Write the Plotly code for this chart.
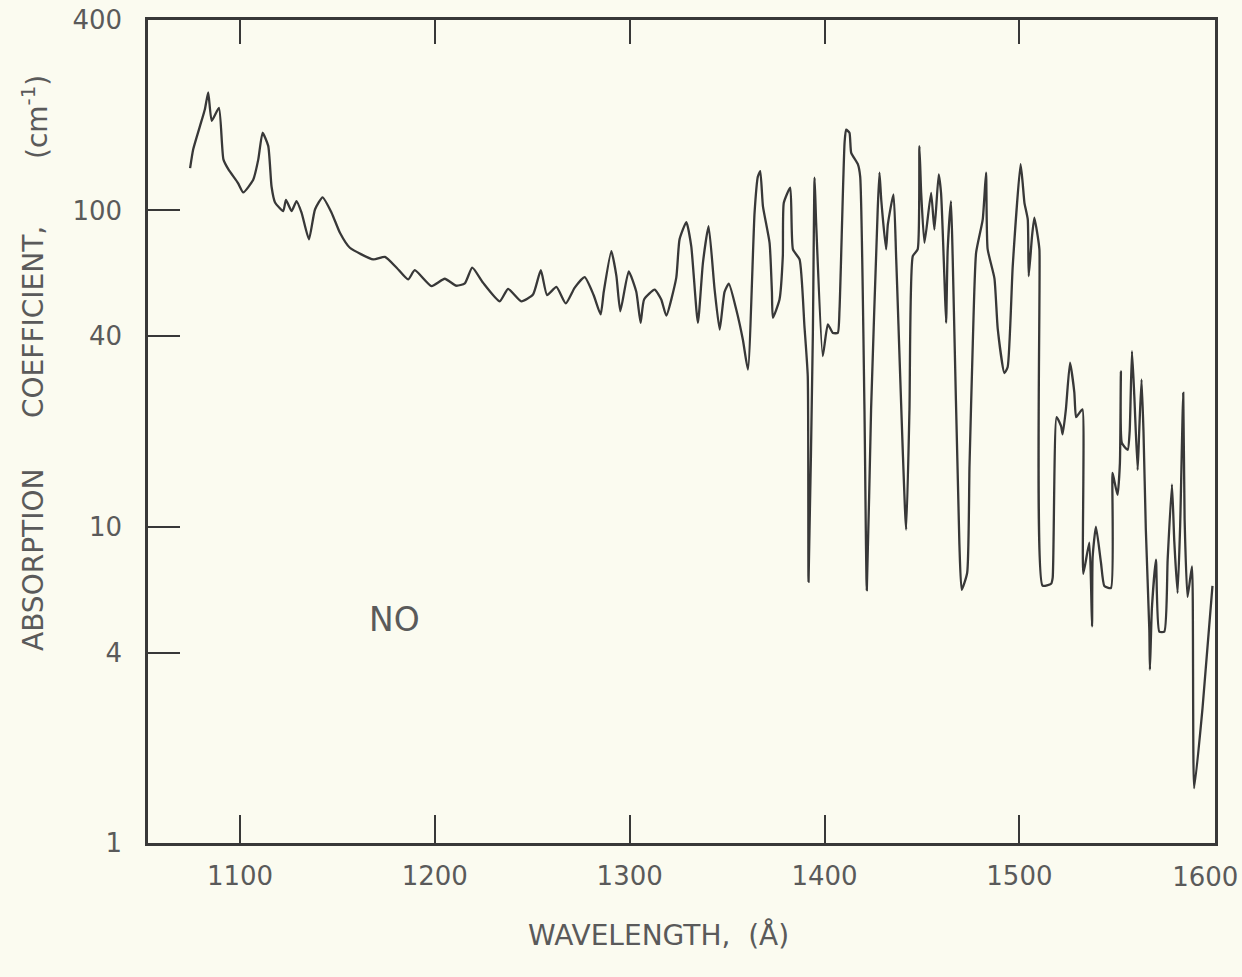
import plotly.graph_objects as go

# Wavelength (Angstrom) and absorption coefficient (cm^-1)
wavelength = [
    1074.4, 1076.0, 1079.5, 1082.0, 1083.7, 1085.5, 1089.2, 1091.5, 1094.0, 1099.0,
    1101.7, 1106.8, 1109.4, 1111.6, 1114.5, 1116.2, 1118.0, 1122.2, 1123.6, 1126.5,
    1129.0, 1131.6, 1135.4, 1138.5, 1142.4, 1147.0, 1151.3, 1156.4, 1168.4, 1174.4,
    1180.4, 1186.3, 1189.7, 1198.3, 1205.1, 1211.0, 1215.4, 1219.2, 1224.8, 1233.3,
    1237.6, 1244.4, 1250.4, 1254.4, 1257.6, 1262.4, 1267.2, 1271.8, 1276.9, 1281.5,
    1285.1, 1286.7, 1290.6, 1293.2, 1295.2, 1299.5, 1303.4, 1305.6, 1307.4, 1312.8,
    1316.2, 1318.8, 1323.9, 1325.6, 1329.1, 1331.6, 1335.0, 1337.6, 1340.5, 1343.6,
    1346.2, 1348.7, 1350.9, 1354.7, 1358.1, 1360.7, 1364.1, 1365.8, 1367.0, 1368.4,
    1371.8, 1373.0, 1373.5, 1376.9, 1378.6, 1379.1, 1382.4, 1383.8, 1387.2, 1389.7,
    1391.4, 1391.8, 1394.0, 1394.9, 1395.7, 1399.1, 1401.7, 1404.3, 1406.8, 1407.7,
    1410.3, 1411.1, 1412.8, 1413.7, 1417.1, 1418.3, 1420.5, 1421.7, 1423.9, 1427.3,
    1428.2, 1429.1, 1431.6, 1432.5, 1435.4, 1436.8, 1441.9, 1443.6, 1445.3, 1447.8,
    1448.7, 1449.6, 1451.3, 1454.7, 1456.4, 1458.6, 1459.8, 1461.5, 1462.4, 1463.2,
    1464.9, 1465.8, 1469.2, 1470.4, 1473.2, 1474.4, 1476.1, 1477.8, 1481.2, 1482.9,
    1483.7, 1487.2, 1488.9, 1492.3, 1494.0, 1496.6, 1500.6, 1501.7, 1502.6, 1504.3,
    1504.8, 1506.5, 1507.7, 1509.4, 1510.3, 1511.9, 1516.3, 1517.1, 1519.1, 1521.4,
    1522.2, 1523.9, 1526.0, 1528.2, 1529.1, 1530.8, 1532.4, 1532.8, 1535.9, 1537.3,
    1537.6, 1539.3, 1541.9, 1543.6, 1547.0, 1547.8, 1548.7, 1550.4, 1551.6, 1552.1,
    1552.6, 1555.6, 1556.6, 1557.8, 1559.0, 1560.7, 1561.5, 1562.7, 1563.7, 1564.9,
    1566.7, 1567.0, 1568.0, 1570.1, 1571.8, 1574.4, 1576.1, 1578.3, 1579.5, 1581.2,
    1582.5, 1584.1, 1584.8, 1586.3, 1588.6, 1589.7, 1594.0, 1599.1,
]
absorption = [
    136, 156, 185, 209, 236, 192, 211, 145, 135, 122,
    114, 125, 145, 176, 160, 119, 106, 99.5, 108, 99.5,
    107, 98.4, 81, 100.7, 110, 98.4, 85, 76.2, 70, 71.3,
    65.9, 60.5, 64.7, 57.6, 60.8, 57.8, 58.8, 65.9, 59, 51.6,
    56.5, 51.6, 54.2, 64.7, 54, 57.3, 50.8, 57, 61.5, 54,
    46.9, 55.3, 74.3, 62, 48, 64.2, 55.3, 44.1, 52.3, 56.2,
    52.3, 46.5, 61.2, 81, 91.8, 77.1, 44.1, 68.3, 89.2, 56.2,
    42, 55.3, 58.7, 48.6, 39, 31.4, 98.4, 128, 133, 103,
    79, 55.3, 45.8, 52.3, 71.7, 105.7, 118, 75.3, 70, 43,
    29.9, 6.7, 40, 126.9, 91.4, 34.6, 43.6, 41, 41, 48.6,
    164, 180, 176, 152, 140, 128, 23.5, 6.3, 23.5, 100.7,
    131.6, 108.3, 75.3, 90.3, 112.4, 70, 9.79, 23.5, 71.7, 75.3,
    159.8, 113.7, 79, 113.7, 87, 130, 113.7, 62, 44.1, 75,
    107, 70, 8.88, 6.32, 7.14, 15.5, 38.1, 73.5, 93.7, 131.6,
    75.6, 61, 42.2, 30.6, 32, 66.8, 140, 122, 105.7, 93.7,
    62, 82.9, 94.8, 83, 75, 6.51, 6.6, 6.9, 22.2, 20.8,
    19.6, 23.6, 33, 26.6, 22.2, 22.9, 23.5, 7.1, 8.9, 4.84,
    8, 10, 7.68, 6.5, 6.4, 14.8, 14, 12.6, 15.9, 31,
    18.4, 17.5, 20, 35.9, 25.8, 15.1, 20, 29.2, 20, 9.8,
    4.7, 3.53, 5.5, 7.87, 4.66, 4.66, 7.87, 13.6, 9, 6.17,
    10, 26.5, 10.6, 6.0, 7.49, 1.49, 2.67, 6.5,
]

x_ticks = [1100, 1200, 1300, 1400, 1500, 1600]
x_tick_labels = ["1100", "1200", "1300", "1400", "1500", "1600"]
y_ticks = [1, 4, 10, 40, 100, 400]
y_tick_labels = ["1", "4", "10", "40", "100", "400"]

BG = "#fbfbf0"
INK = "#383838"
TXT = "#5a5a5a"
FONT = "DejaVu Sans"

W, H = 1242, 977
L, R, T, B = 148, 27, 20, 134
PW, PH = W - L - R, H - T - B
X_RANGE = [1052.8, 1600.4]


def px_x(p):
    return (p - L) / PW


def px_y(p):
    return (H - B - p) / PH


fig = go.Figure()
fig.add_trace(go.Scatter(
    x=wavelength, y=absorption, mode="lines",
    line=dict(color=INK, width=2.3, shape="spline", smoothing=0.5),
    showlegend=False, hoverinfo="skip",
))
# Invisible copies on helper axes: top inward ticks, and the last bottom label
for ax in ("x2", "x3"):
    fig.add_trace(go.Scatter(
        x=wavelength, y=absorption, mode="lines", xaxis=ax,
        line=dict(color=INK, width=0), opacity=0, showlegend=False, hoverinfo="skip",
    ))

title_font = dict(size=28, color=TXT, family=FONT)
tick_font = dict(size=26, color=TXT, family=FONT)

fig.update_layout(
    width=W, height=H,
    margin=dict(l=L, r=R, t=T, b=B, autoexpand=False),
    paper_bgcolor=BG, plot_bgcolor=BG,
    font=dict(family=FONT, color=TXT, size=26),
    xaxis=dict(
        range=X_RANGE, tickvals=x_ticks[:-1], ticktext=x_tick_labels[:-1],
        ticks="inside", ticklen=28, tickwidth=1.5, tickcolor=INK,
        showline=True, linecolor=INK, linewidth=2.5, mirror=True,
        showgrid=False, zeroline=False, automargin=False,
        tickfont=tick_font, ticklabelstandoff=8,
    ),
    xaxis2=dict(
        range=X_RANGE, overlaying="x", side="top", anchor="y",
        tickvals=x_ticks[:-1], ticks="inside", ticklen=24, tickwidth=1.5,
        tickcolor=INK, showticklabels=False, showgrid=False, zeroline=False,
        showline=False, automargin=False,
    ),
    xaxis3=dict(
        range=X_RANGE, overlaying="x", side="bottom", anchor="y",
        tickvals=x_ticks[-1:], ticktext=x_tick_labels[-1:],
        ticks="inside", ticklen=28, tickwidth=1.5, tickcolor=INK,
        showgrid=False, zeroline=False, showline=False, automargin=False,
        ticklabeloverflow="allow", ticklabelshift=-9,
        tickfont=tick_font, ticklabelstandoff=16,
    ),
    yaxis=dict(
        type="log", range=[0, 2.60206], tickvals=y_ticks, ticktext=y_tick_labels,
        ticks="inside", ticklen=32, tickwidth=1.5, tickcolor=INK,
        showline=True, linecolor=INK, linewidth=2.5, mirror=True,
        showgrid=False, zeroline=False, ticklabeloverflow="allow",
        automargin=False,
        tickfont=tick_font, ticklabelstandoff=18,
    ),
    annotations=[
        dict(text="WAVELENGTH,  (Å)", xref="paper", yref="paper",
             x=px_x(658), y=px_y(935), showarrow=False,
             xanchor="center", yanchor="middle", font=title_font),
        dict(text="ABSORPTION", xref="paper", yref="paper",
             x=px_x(33), y=px_y(560), showarrow=False, textangle=-90,
             xanchor="center", yanchor="middle", font=title_font),
        dict(text="COEFFICIENT,", xref="paper", yref="paper",
             x=px_x(33), y=px_y(322), showarrow=False, textangle=-90,
             xanchor="center", yanchor="middle", font=title_font),
        dict(text="(cm<sup>-1</sup>)", xref="paper", yref="paper",
             x=px_x(36), y=px_y(117), showarrow=False, textangle=-90,
             xanchor="center", yanchor="middle", font=title_font),
        dict(text="NO", xref="x", yref="y", x=1179.5, y=0.706,
             showarrow=False, xanchor="center", yanchor="middle",
             font=dict(size=33, color=TXT, family=FONT)),
    ],
)

fig.write_html(
    "out.html",
    config={"displayModeBar": False},
    post_script="document.body.style.margin='0';document.body.style.background='%s';" % BG,
)
